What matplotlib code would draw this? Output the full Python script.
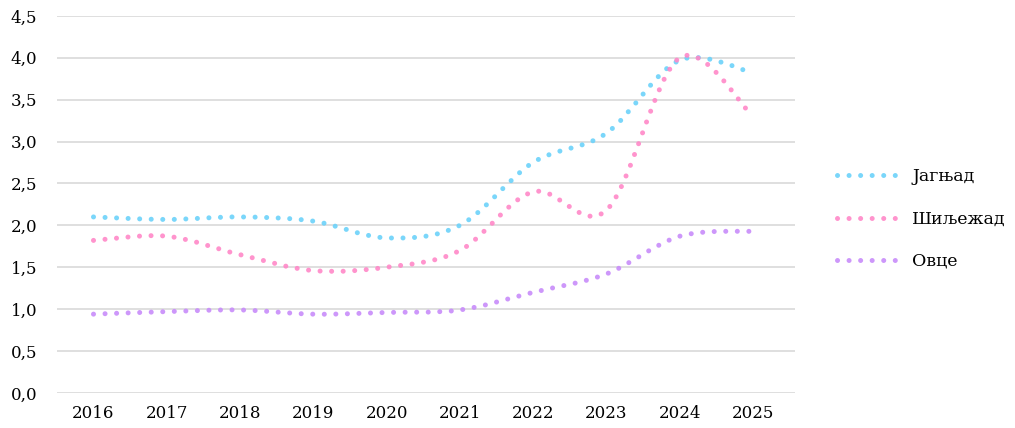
import matplotlib.pyplot as plt
import numpy as np
from matplotlib.path import Path
from matplotlib.patches import PathPatch
from matplotlib.lines import Line2D

years = [2016, 2017, 2018, 2019, 2020, 2021, 2022, 2023, 2024, 2025]
jagnjad = [2.10, 2.07, 2.10, 2.05, 1.85, 2.00, 2.75, 3.10, 3.97, 3.82]
siljezad = [1.82, 1.87, 1.65, 1.46, 1.50, 1.70, 2.40, 2.18, 4.00, 3.30]
ovce = [0.94, 0.97, 0.99, 0.94, 0.96, 0.99, 1.20, 1.42, 1.87, 1.93]

names = ['Јагњад', 'Шиљежад', 'Овце']
colors = ['#6cd2fa', '#ff88c8', '#c88cfa']

plt.rcParams['font.family'] = ['DejaVu Serif']


def smooth_path(x, y):
    # Excel-like smoothed line: Bezier segments through the data points
    pts = np.column_stack([x, y]).astype(float)
    ext = np.vstack([pts[0], pts, pts[-1]])
    verts = [pts[0]]
    codes = [Path.MOVETO]
    for i in range(1, len(ext) - 2):
        p0, p1, p2, p3 = ext[i - 1], ext[i], ext[i + 1], ext[i + 2]
        c1 = p1 + (p2 - p0) / 6
        c2 = p2 - (p3 - p1) / 6
        verts += [c1, c2, p2]
        codes += [Path.CURVE4] * 3
    return Path(verts, codes)


fig = plt.figure(figsize=(10.15, 4.28), dpi=100)
ax = fig.add_axes([0.056, 0.082, 0.727, 0.881])

dots = (0, (0.01, 2.3))
handles = []
for vals, name, col in zip([jagnjad, siljezad, ovce], names, colors):
    patch = PathPatch(smooth_path(years, vals), facecolor='none', edgecolor=col,
                      lw=3.6, linestyle=dots, capstyle='round',
                      alpha=0.9, zorder=3)
    ax.add_patch(patch)
    handles.append(Line2D([], [], color=col, lw=3.6, linestyle=dots,
                          dash_capstyle='round', alpha=0.9, label=name))

ax.set_xlim(2015.5, 2025.57)
ax.set_ylim(0, 4.5)
ax.set_xticks(years)
ax.set_xticklabels([str(y) for y in years])
yt = np.arange(0, 4.51, 0.5)
ax.set_yticks(yt)
ax.set_yticklabels([f'{v:.1f}'.replace('.', ',') for v in yt])
ax.grid(axis='y', color='#d9d9d9', lw=1.2)
ax.set_axisbelow(True)
for s in ax.spines.values():
    s.set_visible(False)
ax.tick_params(length=0, labelsize=12, colors='black', pad=9)
ax.tick_params(axis='y', pad=14)

fig.legend(handles=handles, loc='center left', bbox_to_anchor=(0.825, 0.488),
           frameon=False, fontsize=12.5, handlelength=3.9, handletextpad=0.4,
           labelspacing=1.45, borderpad=0, borderaxespad=0)

fig.savefig('out.png', dpi=100)
